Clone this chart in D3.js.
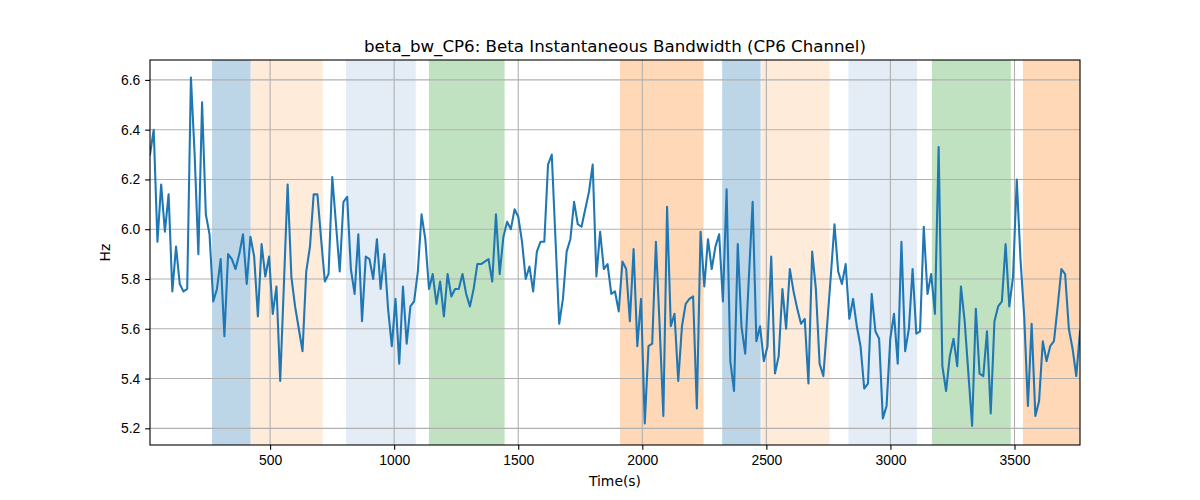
<!DOCTYPE html>
<html>
<head>
<meta charset="utf-8">
<title>beta_bw_CP6</title>
<script src="https://d3js.org/d3.v7.min.js"></script>
<style>
body { margin: 0; background: #fff; }
svg { font-family: "DejaVu Sans", sans-serif; }
.axis text { font-size: 13.9px; fill: #000; }
.axis path, .axis line { stroke: #000; stroke-width: 1.1; }
.grid line { stroke: #b0b0b0; stroke-width: 1.1; }
</style>
</head>
<body>
<div id="container"></div>
<script>

//------------------------ DATA ------------------------//
// sample start / step (seconds) of the series
var tStart = 16;
var tStep = 14.992;

// Hz values, one per sample
var bandwidth = [
  6.30, 6.40, 5.95, 6.18, 5.99, 6.14, 5.75, 5.93, 5.78, 5.75,
  5.76, 6.61, 6.30, 5.90, 6.51, 6.06, 5.98, 5.71, 5.76, 5.88,
  5.57, 5.90, 5.88, 5.84, 5.90, 5.98, 5.78, 5.97, 5.89, 5.65,
  5.94, 5.81, 5.89, 5.66, 5.77, 5.39, 5.78, 6.18, 5.81, 5.69,
  5.60, 5.51, 5.83, 5.93, 6.14, 6.14, 5.96, 5.79, 5.82, 6.21,
  6.02, 5.83, 6.11, 6.13, 5.84, 5.74, 5.98, 5.63, 5.89, 5.88,
  5.80, 5.96, 5.76, 5.90, 5.68, 5.53, 5.72, 5.46, 5.77, 5.54,
  5.69, 5.71, 5.83, 6.06, 5.96, 5.76, 5.82, 5.70, 5.79, 5.65,
  5.82, 5.73, 5.76, 5.76, 5.82, 5.74, 5.69, 5.76, 5.86, 5.86,
  5.87, 5.88, 5.79, 6.06, 5.82, 5.97, 6.03, 6.00, 6.08, 6.05,
  5.95, 5.80, 5.85, 5.75, 5.91, 5.95, 5.95, 6.26, 6.30, 5.96,
  5.62, 5.72, 5.91, 5.96, 6.11, 6.02, 6.01, 6.08, 6.15, 6.26,
  5.81, 5.99, 5.84, 5.86, 5.74, 5.75, 5.67, 5.87, 5.84, 5.63,
  5.92, 5.53, 5.72, 5.22, 5.53, 5.54, 5.95, 5.61, 5.25, 6.09,
  5.61, 5.66, 5.39, 5.61, 5.70, 5.72, 5.73, 5.28, 5.99, 5.77,
  5.96, 5.84, 5.93, 5.98, 5.71, 6.16, 5.47, 5.35, 5.94, 5.61,
  5.50, 5.81, 6.11, 5.55, 5.61, 5.47, 5.53, 5.89, 5.42, 5.49,
  5.76, 5.60, 5.84, 5.75, 5.68, 5.62, 5.64, 5.38, 5.91, 5.76,
  5.46, 5.41, 5.61, 5.81, 6.02, 5.83, 5.78, 5.86, 5.64, 5.72,
  5.61, 5.53, 5.36, 5.38, 5.74, 5.59, 5.56, 5.24, 5.29, 5.56,
  5.66, 5.46, 5.95, 5.51, 5.60, 5.84, 5.58, 5.59, 6.01, 5.74,
  5.82, 5.66, 6.33, 5.45, 5.35, 5.49, 5.56, 5.45, 5.77, 5.63,
  5.42, 5.21, 5.68, 5.42, 5.41, 5.59, 5.26, 5.63, 5.69, 5.71,
  5.94, 5.69, 5.81, 6.20, 5.88, 5.65, 5.29, 5.62, 5.25, 5.31,
  5.55, 5.47, 5.53, 5.55, 5.69, 5.84, 5.82, 5.60, 5.52, 5.41,
  5.59
];

// shaded intervals (seconds) and their colours
var spanStart = [266, 422, 806, 1140, 1910, 2322, 2480, 2831, 3167, 3534];
var spanEnd   = [422, 712, 1087, 1445, 2247, 2477, 2755, 3107, 3485, 3800];
var spanColor = ["#bcd6e8", "#ffebda", "#e4ecf6", "#c0e2c0", "#ffd9b7",
                 "#bcd6e8", "#ffebda", "#e4ecf6", "#c0e2c0", "#ffd9b7"];

var xTicks = [500, 1000, 1500, 2000, 2500, 3000, 3500];
var yTicks = [5.2, 5.4, 5.6, 5.8, 6.0, 6.2, 6.4, 6.6];

var xDomain = [16, 3764];
var yDomain = [5.133, 6.680];

//------------------------ SETUP ------------------------//
var W = 1200, H = 500;
var margin = {left: 150, right: 120, top: 60, bottom: 55};
var width = W - margin.left - margin.right;
var height = H - margin.top - margin.bottom;

var series = bandwidth.map(function(v, i) {
    return {t: tStart + i * tStep, v: v};
});

var xScale = d3.scaleLinear().domain(xDomain).range([0, width]);
var yScale = d3.scaleLinear().domain(yDomain).range([height, 0]);

var svg = d3.select("#container").append("svg")
    .attr("width", W)
    .attr("height", H);

var g = svg.append("g")
    .attr("transform", "translate(" + margin.left + "," + margin.top + ")");

svg.append("defs").append("clipPath").attr("id", "clip")
    .append("rect").attr("width", width).attr("height", height);

var plot = g.append("g").attr("clip-path", "url(#clip)");

//------------------------ SPANS ------------------------//
plot.selectAll("rect.span")
    .data(spanStart)
    .enter()
    .append("rect")
    .attr("class", "span")
    .attr("x", function(d) { return xScale(d); })
    .attr("width", function(d, i) { return xScale(spanEnd[i]) - xScale(d); })
    .attr("y", 0)
    .attr("height", height)
    .attr("fill", function(d, i) { return spanColor[i]; });

//------------------------ GRID ------------------------//
var grid = plot.append("g").attr("class", "grid");
grid.selectAll("line.gx")
    .data(xTicks).enter().append("line")
    .attr("x1", function(d) { return xScale(d); })
    .attr("x2", function(d) { return xScale(d); })
    .attr("y1", 0).attr("y2", height);
grid.selectAll("line.gy")
    .data(yTicks).enter().append("line")
    .attr("y1", function(d) { return yScale(d); })
    .attr("y2", function(d) { return yScale(d); })
    .attr("x1", 0).attr("x2", width);

//------------------------ LINE ------------------------//
var line = d3.line()
    .x(function(d) { return xScale(d.t); })
    .y(function(d) { return yScale(d.v); });

plot.append("path")
    .datum(series)
    .attr("d", line)
    .attr("fill", "none")
    .attr("stroke", "#1f77b4")
    .attr("stroke-width", 2.08)
    .attr("stroke-linejoin", "round")
    .attr("stroke-linecap", "square");

//------------------------ AXES ------------------------//
var xAxis = d3.axisBottom(xScale).tickValues(xTicks).tickSize(4.86).tickPadding(4.86)
    .tickFormat(d3.format("d"));
var yAxis = d3.axisLeft(yScale).tickValues(yTicks).tickSize(4.86).tickPadding(4.86)
    .tickFormat(d3.format(".1f"));

g.append("g").attr("class", "axis")
    .attr("transform", "translate(0," + height + ")")
    .call(xAxis)
    .call(function(s) { s.select(".domain").remove(); });

g.append("g").attr("class", "axis")
    .call(yAxis)
    .call(function(s) { s.select(".domain").remove(); });

// frame
g.append("rect")
    .attr("width", width).attr("height", height)
    .attr("fill", "none").attr("stroke", "#000").attr("stroke-width", 1.1);

//------------------------ TEXT ------------------------//
svg.append("text")
    .attr("x", margin.left + width / 2)
    .attr("y", margin.top - 8)
    .attr("text-anchor", "middle")
    .style("font-size", "16.67px")
    .text("beta_bw_CP6: Beta Instantaneous Bandwidth (CP6 Channel)");

svg.append("text")
    .attr("x", margin.left + width / 2)
    .attr("y", H - 14)
    .attr("text-anchor", "middle")
    .style("font-size", "13.9px")
    .text("Time(s)");

svg.append("text")
    .attr("transform", "translate(110," + (margin.top + height / 2) + ") rotate(-90)")
    .attr("text-anchor", "middle")
    .style("font-size", "13.9px")
    .text("Hz");

</script>
</body>
</html>
